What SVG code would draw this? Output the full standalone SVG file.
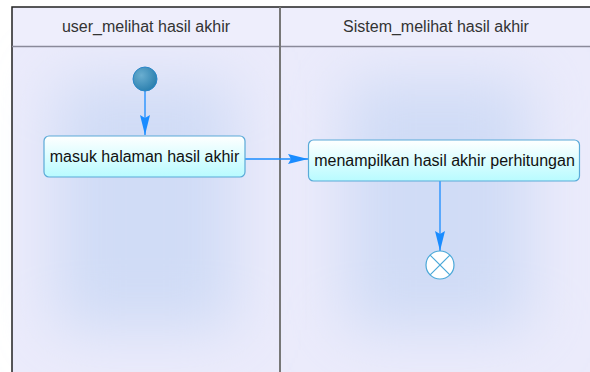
<svg xmlns="http://www.w3.org/2000/svg" width="590" height="372" viewBox="0 0 590 372">
  <defs>
    <filter id="soft" x="-50%" y="-50%" width="200%" height="200%">
      <feGaussianBlur stdDeviation="30"/>
    </filter>
    <linearGradient id="actFill" x1="0" y1="0" x2="0" y2="1">
      <stop offset="0" stop-color="#ffffff"/>
      <stop offset="1" stop-color="#b8fbff"/>
    </linearGradient>
    <radialGradient id="startFill" cx="0.35" cy="0.35" r="0.7">
      <stop offset="0" stop-color="#6aaed0"/>
      <stop offset="1" stop-color="#2a7fae"/>
    </radialGradient>
    <marker id="arrow" viewBox="0 0 20 10" refX="20" refY="5" markerWidth="20" markerHeight="10" markerUnits="userSpaceOnUse" orient="auto">
      <path d="M0,0 L20,5 L0,10 L3,5 Z" fill="#1a8cff"/>
    </marker>
    <style>
      .lane { fill: #ebebfb; }
      .glow { fill: #d0dcf6; filter: url(#soft); }
      .head { fill: #eeeefc; }
      .border { stroke: #222; stroke-width: 1.5; fill: none; }
      .divider { stroke: #777; stroke-width: 2; }
      .hsep { stroke: #8a8a9a; stroke-width: 1.5; }
      .title { font-family: "Liberation Sans", Arial, sans-serif; font-size: 16px; fill: #333; text-anchor: middle; }
      .act { fill: url(#actFill); stroke: #5aaad8; stroke-width: 1.2; }
      .label { font-family: "Liberation Sans", Arial, sans-serif; font-size: 16px; fill: #111; text-anchor: middle; }
      .flow { stroke: #1a8cff; stroke-width: 1.3; fill: none; marker-end: url(#arrow); }
    </style>
  </defs>

  <!-- swimlane backgrounds -->
  <rect x="0" y="0" width="590" height="372" fill="#ffffff"/>
  <rect class="lane" x="12" y="7" width="578" height="365"/>
  <rect class="glow" x="55" y="80" width="180" height="250"/>
  <rect class="glow" x="345" y="80" width="185" height="250"/>
  <rect class="head" x="12" y="7" width="578" height="39"/>

  <!-- lane frame -->
  <path class="border" d="M12,372 V7 H590"/>
  <line class="hsep" x1="12" y1="46.5" x2="590" y2="46.5"/>
  <line class="divider" x1="280" y1="7" x2="280" y2="372"/>

  <text class="title" x="146" y="32">user_melihat hasil akhir</text>
  <text class="title" x="436" y="32">Sistem_melihat hasil akhir</text>

  <!-- connectors -->
  <g id="connectors">
    <line class="flow" x1="145" y1="91" x2="145" y2="135"/>
    <line class="flow" x1="245" y1="159" x2="308" y2="159"/>
    <line class="flow" x1="440" y1="181" x2="440" y2="251"/>
  </g>

  <!-- nodes -->
  <g id="start">
    <circle cx="145" cy="79" r="12" fill="url(#startFill)" stroke="#2a86c8" stroke-width="1"/>
  </g>
  <g id="masuk">
    <rect class="act" x="44" y="136" width="201" height="41" rx="5"/>
    <text class="label" x="144.5" y="162">masuk halaman hasil akhir</text>
  </g>
  <g id="menampilkan">
    <rect class="act" x="308.5" y="140" width="271" height="41" rx="5"/>
    <text class="label" x="444.5" y="166">menampilkan hasil akhir perhitungan</text>
  </g>
  <g id="end">
    <circle cx="440" cy="265" r="14" fill="#ffffff" stroke="#4aa8d8" stroke-width="1.2"/>
    <line x1="430.1" y1="255.1" x2="449.9" y2="274.9" stroke="#4aa8d8" stroke-width="1.2"/>
    <line x1="449.9" y1="255.1" x2="430.1" y2="274.9" stroke="#4aa8d8" stroke-width="1.2"/>
  </g>
</svg>
